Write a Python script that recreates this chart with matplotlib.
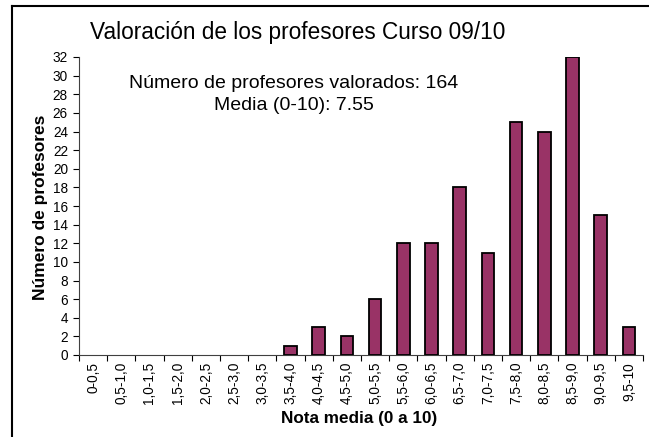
import numpy as np
import matplotlib
matplotlib.use("Agg")
import matplotlib.pyplot as plt

plt.rcParams['font.family'] = ['Liberation Sans', 'DejaVu Sans']

categories = ["0-0,5", "0,5-1,0", "1,0-1,5", "1,5-2,0", "2,0-2,5", "2,5-3,0",
              "3,0-3,5", "3,5-4,0", "4,0-4,5", "4,5-5,0", "5,0-5,5", "5,5-6,0",
              "6,0-6,5", "6,5-7,0", "7,0-7,5", "7,5-8,0", "8,0-8,5", "8,5-9,0",
              "9,0-9,5", "9,5-10"]
counts = [0, 0, 0, 0, 0, 0, 0, 1, 3, 2, 6, 12, 12, 18, 11, 25, 24, 32, 15, 3]
y_ticks = list(range(0, 33, 2))

W, H = 649, 437
fig = plt.figure(figsize=(W / 100, H / 100), dpi=100)

# frame around the chart (only left and top visible in the crop)
fig.add_artist(plt.Line2D([12 / W, 12 / W], [0, 1 - 6 / H], color='black', lw=1.5))
fig.add_artist(plt.Line2D([12 / W, 1], [1 - 6 / H, 1 - 6 / H], color='black', lw=1.5))

left, right = 79 / W, 643 / W
bottom, top = 1 - 355 / H, 1 - 57 / H
ax = fig.add_axes([left, bottom, right - left, top - bottom])

x = np.arange(len(categories))
bars = ax.bar(x, counts, width=0.44, color='#993366', edgecolor='black', linewidth=1.3, zorder=3)
for b, c in zip(bars, counts):
    if c == 0:
        b.set_visible(False)

ax.set_xlim(-0.5, len(categories) - 0.5)
ax.set_ylim(0, 32)
ax.set_yticks(y_ticks)
ax.tick_params(axis='y', labelsize=9.8, length=4, width=0.8, direction='out', pad=4)

# ticks between categories, labels at centres
ax.set_xticks(np.arange(len(categories) + 1) - 0.5)
ax.set_xticklabels([])
ax.set_xticks(x, minor=True)
ax.set_xticklabels(categories, minor=True, rotation=90, fontsize=9.8)
ax.tick_params(axis='x', which='major', length=4, width=0.8, direction='out')
ax.tick_params(axis='x', which='minor', length=0, pad=5)

for s in ['top', 'right']:
    ax.spines[s].set_visible(False)
for s in ['left', 'bottom']:
    ax.spines[s].set_linewidth(0.8)
    ax.spines[s].set_color('#404040')

fig.text(90 / W, 1 - 33 / H, "Valoración de los profesores Curso 09/10",
         fontsize=16.3, ha='left', va='center')
fig.text(294 / W, 1 - 83 / H, "Número de profesores valorados: 164",
         fontsize=14, ha='center', va='center')
fig.text(294 / W, 1 - 105 / H, "Media (0-10): 7.55",
         fontsize=14, ha='center', va='center')
fig.text(41 / W, 1 - 207 / H, "Número de profesores", rotation=90,
         fontsize=12.5, fontweight='bold', ha='center', va='center')
fig.text(359 / W, 1 - 418 / H, "Nota media (0 a 10)",
         fontsize=12.3, fontweight='bold', ha='center', va='center')

fig.savefig("out.png", dpi=100)
